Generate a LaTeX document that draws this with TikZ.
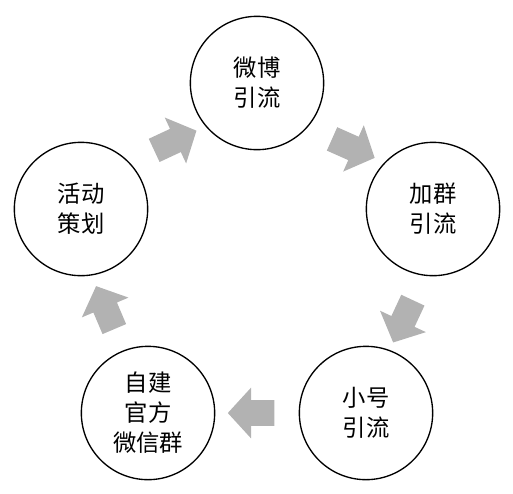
\documentclass[tikz,border=0pt]{standalone}
\usepackage{fontspec}
\usepackage{tikz}
\newfontfamily\cjk{Noto Sans CJK SC}
\usetikzlibrary{shapes.arrows,calc}

\begin{document}
\begin{tikzpicture}[x=0.75pt,y=-0.75pt,
    stage/.style={circle,draw,line width=1pt,minimum size=100pt,align=center,
        font=\cjk\fontsize{17.5}{22.5}\selectfont},
    flow/.style={single arrow,fill=black!30,inner sep=9.4pt,
        single arrow head extend=9.4pt,single arrow tip angle=95,minimum height=35pt}]
                \useasboundingbox (0,0) rectangle (513,493);
                \node[stage] (wb) at (257,83)  {微博\\引流};
                \node[stage] (jq) at (433,209) {加群\\引流};
                \node[stage] (xh) at (366,413) {小号\\引流};
                \node[stage] (zj) at (148,413) {自建\\官方\\微信群};
                \node[stage] (hd) at (81,209)  {活动\\策划};
                \node[flow,rotate=25]   (f1) at ($(hd)!.5!(wb)+(1,-3)$) {};
                \node[flow,rotate=-24]  (f2) at ($(wb)!.5!(jq)+(3,0)$) {};
                \node[flow,rotate=-115] (f3) at ($(jq)!.5!(xh)+(6,5)$) {};
                \node[flow,rotate=180]  (f4) at ($(xh)!.5!(zj)$) {};
                \node[flow,rotate=113]  (f5) at ($(zj)!.5!(hd)+(-7,2)$) {};
            \end{tikzpicture}
\end{document}
